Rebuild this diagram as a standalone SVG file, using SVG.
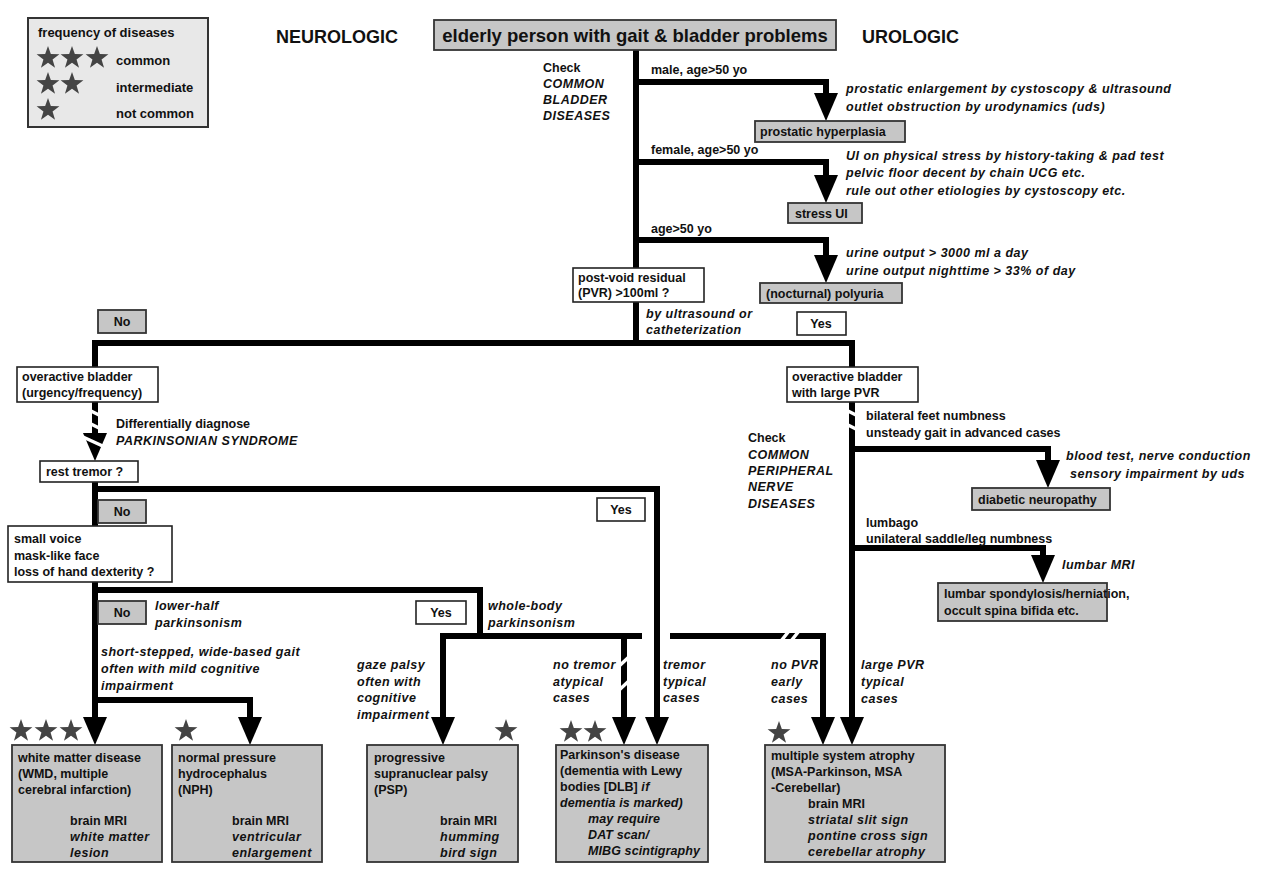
<svg xmlns="http://www.w3.org/2000/svg" xmlns:xlink="http://www.w3.org/1999/xlink" width="1272" height="878" viewBox="0 0 1272 878">
<style>
text { font-family: "Liberation Sans", Arial, sans-serif; font-size: 12.5px; font-weight: bold; fill: #111; }
.i { font-style: italic; letter-spacing: 0.5px; }
.n { letter-spacing: 0.1px; }
.h { font-size: 18px; }
.title { font-size: 18.5px; }
.lt { font-size: 13px; }
.c { text-anchor: middle; }
.ln { stroke: #000; stroke-width: 6; fill: none; }
.brk { stroke: #fff; stroke-width: 3.5; fill: none; }
.g { fill: #c6c6c6; stroke: #333; stroke-width: 1.8; }
.w { fill: #fff; stroke: #222; stroke-width: 1.6; }
.lg { fill: #e8e8e8; stroke: #333; stroke-width: 2; }
.st { fill: #444; }
.ah { fill: #000; }
</style>
<defs>
<path id="star" d="M0,-12 L2.83,-3.88 L11.41,-3.71 L4.56,1.48 L7.05,9.71 L0,4.8 L-7.05,9.71 L-4.56,1.48 L-11.41,-3.71 L-2.83,-3.88 Z"/>
<path id="ah" d="M-12,-28 L12,-28 L0,0 Z"/>
</defs>
<rect width="1272" height="878" fill="#fff"/>

<g id="legend">
<rect class="lg" x="28" y="18" width="180" height="109"/>
<text class="lt" x="38" y="37">frequency of diseases</text>
<use href="#star" class="st" x="48" y="58"/><use href="#star" class="st" x="72" y="58"/><use href="#star" class="st" x="97" y="58"/>
<text class="lt" x="116" y="65">common</text>
<use href="#star" class="st" x="48" y="84"/><use href="#star" class="st" x="72" y="84"/>
<text class="lt" x="116" y="92">intermediate</text>
<use href="#star" class="st" x="48" y="110"/>
<text class="lt" x="116" y="118">not common</text>
</g>

<text class="h" x="276" y="43">NEUROLOGIC</text>
<text class="h" x="862" y="43">UROLOGIC</text>

<g id="connectors">
<path class="ln" d="M636,50 V343"/>
<path class="ln" d="M636,82 H826 V94"/><use href="#ah" class="ah" x="826" y="121"/>
<path class="ln" d="M636,162 H826 V176"/><use href="#ah" class="ah" x="826" y="203"/>
<path class="ln" d="M636,240 H826 V256"/><use href="#ah" class="ah" x="826" y="283"/>
<path class="ln" d="M95,368 V343 H852 V368"/>
<path class="ln" d="M95,402 V436"/><use href="#ah" class="ah" x="95" y="461"/>
<path class="brk" d="M87,409 L103,417 M87,422 L103,430 M83,437 L107,448"/>
<path class="ln" d="M95,482 V526"/>
<path class="ln" d="M95,489 H657 V720"/><use href="#ah" class="ah" x="657" y="745"/>
<path class="ln" d="M95,582 V720"/><use href="#ah" class="ah" x="95" y="745"/>
<path class="ln" d="M95,700 H250 V720"/><use href="#ah" class="ah" x="250" y="745"/>
<path class="ln" d="M95,590 H480 V636"/>
<path class="ln" d="M443,720 V636 H642"/><use href="#ah" class="ah" x="443" y="745"/>
<path class="ln" d="M624,636 V720"/><use href="#ah" class="ah" x="624" y="745"/>
<path class="brk" d="M631,655 L617,668 M631,679 L617,692"/>
<path class="ln" d="M670,636 H823 V720"/><use href="#ah" class="ah" x="823" y="745"/>
<path class="brk" d="M789,631 L781,641 M799,631 L791,641"/>
<path class="ln" d="M852,402 V720"/><use href="#ah" class="ah" x="852" y="745"/>
<path class="brk" d="M844,409 L860,417 M844,423 L860,431"/>
<path class="ln" d="M852,449 H1048 V462"/><use href="#ah" class="ah" x="1048" y="488"/>
<path class="ln" d="M852,548 H1043 V558"/><use href="#ah" class="ah" x="1043" y="583"/>
</g>

<g id="n-start">
<rect class="g" x="434" y="20" width="402" height="30"/>
<text class="title c" x="635" y="42">elderly person with gait &amp; bladder problems</text>
</g>
<g id="l-check-bladder">
<text x="543" y="72">Check</text>
<text class="i" x="543" y="88">COMMON</text>
<text class="i" x="543" y="104">BLADDER</text>
<text class="i" x="543" y="120">DISEASES</text>
</g>
<g id="n-prostatic">
<text x="651" y="74">male, age&gt;50 yo</text>
<text class="i" x="846" y="93">prostatic enlargement by cystoscopy &amp; ultrasound</text>
<text class="i" x="846" y="111">outlet obstruction by urodynamics (uds)</text>
<rect class="g" x="755" y="121" width="150" height="21"/>
<text x="760" y="136">prostatic hyperplasia</text>
</g>
<g id="n-stress">
<text x="651" y="154">female, age&gt;50 yo</text>
<text class="i" x="846" y="160">UI on physical stress by history-taking &amp; pad test</text>
<text class="i" x="846" y="177">pelvic floor decent by chain UCG etc.</text>
<text class="i" x="846" y="195">rule out other etiologies by cystoscopy etc.</text>
<rect class="g" x="788" y="203" width="74" height="20"/>
<text x="795" y="218">stress UI</text>
</g>
<g id="n-polyuria">
<text x="651" y="233">age&gt;50 yo</text>
<text class="i" x="846" y="257">urine output &gt; 3000 ml a day</text>
<text class="i" x="846" y="275">urine output nighttime &gt; 33% of day</text>
<rect class="g" x="760" y="283" width="142" height="20"/>
<text x="766" y="298">(nocturnal) polyuria</text>
</g>
<g id="n-pvr">
<rect class="w" x="573" y="268" width="131" height="34"/>
<text x="578" y="282">post-void residual</text>
<text x="578" y="297">(PVR) &gt;100ml ?</text>
<text class="i" x="646" y="318">by ultrasound or</text>
<text class="i" x="646" y="334">catheterization</text>
</g>
<g id="l-no1"><rect class="g" x="98" y="310" width="48" height="23"/><text class="c" x="122" y="326">No</text></g>
<g id="l-yes1"><rect class="w" x="797" y="312" width="49" height="23"/><text class="c" x="821" y="328">Yes</text></g>

<g id="n-oab-left">
<rect class="w" x="17" y="367" width="141" height="35"/>
<text x="22" y="381">overactive bladder</text>
<text x="22" y="397">(urgency/frequency)</text>
</g>
<g id="l-diff">
<text x="116" y="428">Differentially diagnose</text>
<text class="i" x="116" y="445">PARKINSONIAN SYNDROME</text>
</g>
<g id="n-rest">
<rect class="w" x="40" y="461" width="98" height="21"/>
<text x="46" y="476">rest tremor ?</text>
</g>
<g id="l-no2"><rect class="g" x="98" y="500" width="48" height="23"/><text class="c" x="122" y="516">No</text></g>
<g id="l-yes2"><rect class="w" x="597" y="498" width="48" height="23"/><text class="c" x="621" y="514">Yes</text></g>
<g id="n-small">
<rect class="w" x="8" y="526" width="164" height="56"/>
<text x="14" y="543">small voice</text>
<text x="14" y="560">mask-like face</text>
<text x="14" y="576">loss of hand dexterity ?</text>
</g>
<g id="l-no3"><rect class="g" x="98" y="601" width="48" height="23"/><text class="c" x="122" y="617">No</text>
<text class="i" x="155" y="610">lower-half</text><text class="i" x="155" y="627">parkinsonism</text></g>
<g id="l-yes3"><rect class="w" x="416" y="601" width="50" height="23"/><text class="c" x="441" y="617">Yes</text>
<text class="i" x="488" y="610">whole-body</text><text class="i" x="488" y="627">parkinsonism</text></g>
<g id="l-gait">
<text class="i" x="101" y="656">short-stepped, wide-based gait</text>
<text class="i" x="101" y="673">often with mild cognitive</text>
<text class="i" x="101" y="690">impairment</text>
</g>
<g id="l-gaze">
<text class="i" x="357" y="669">gaze palsy</text>
<text class="i" x="357" y="686">often with</text>
<text class="i" x="357" y="702">cognitive</text>
<text class="i" x="357" y="719">impairment</text>
</g>
<g id="l-notremor">
<text class="i" x="553" y="669">no tremor</text>
<text class="i" x="553" y="686">atypical</text>
<text class="i" x="553" y="702">cases</text>
</g>
<g id="l-tremor">
<text class="i" x="663" y="669">tremor</text>
<text class="i" x="663" y="686">typical</text>
<text class="i" x="663" y="702">cases</text>
</g>
<g id="l-nopvr">
<text class="i" x="771" y="669">no PVR</text>
<text class="i" x="771" y="686">early</text>
<text class="i" x="771" y="703">cases</text>
</g>
<g id="l-largepvr">
<text class="i" x="861" y="669">large PVR</text>
<text class="i" x="861" y="686">typical</text>
<text class="i" x="861" y="703">cases</text>
</g>

<g id="n-oab-right">
<rect class="w" x="787" y="367" width="131" height="35"/>
<text x="792" y="381">overactive bladder</text>
<text x="792" y="397">with large PVR</text>
</g>
<g id="l-check-nerve">
<text x="748" y="442">Check</text>
<text class="i" x="748" y="459">COMMON</text>
<text class="i" x="748" y="475">PERIPHERAL</text>
<text class="i" x="748" y="491">NERVE</text>
<text class="i" x="748" y="508">DISEASES</text>
</g>
<g id="n-diabetic">
<text x="866" y="420">bilateral feet numbness</text>
<text x="866" y="437">unsteady gait in advanced cases</text>
<text class="i" x="1066" y="460">blood test, nerve conduction</text>
<text class="i" x="1070" y="478">sensory impairment by uds</text>
<rect class="g" x="972" y="488" width="138" height="22"/>
<text x="978" y="504">diabetic neuropathy</text>
</g>
<g id="n-lumbar">
<text x="866" y="527">lumbago</text>
<text x="866" y="543">unilateral saddle/leg numbness</text>
<text class="i" x="1062" y="569">lumbar MRI</text>
<rect class="g" x="938" y="583" width="169" height="38"/>
<text x="944" y="598">lumbar spondylosis/herniation,</text>
<text x="944" y="615">occult spina bifida etc.</text>
</g>

<g id="n-wmd">
<use href="#star" class="st" x="21" y="731"/><use href="#star" class="st" x="46" y="731"/><use href="#star" class="st" x="71" y="731"/>
<rect class="g" x="12" y="745" width="150" height="117"/>
<text x="18" y="762">white matter disease</text>
<text x="18" y="778">(WMD, multiple</text>
<text x="18" y="794">cerebral infarction)</text>
<text x="70" y="825">brain MRI</text>
<text class="i" x="70" y="841">white matter</text>
<text class="i" x="70" y="857">lesion</text>
</g>
<g id="n-nph">
<use href="#star" class="st" x="186" y="731"/>
<rect class="g" x="172" y="745" width="150" height="117"/>
<text x="178" y="762">normal pressure</text>
<text x="178" y="778">hydrocephalus</text>
<text x="178" y="794">(NPH)</text>
<text x="232" y="825">brain MRI</text>
<text class="i" x="232" y="841">ventricular</text>
<text class="i" x="232" y="857">enlargement</text>
</g>
<g id="n-psp">
<use href="#star" class="st" x="506" y="731"/>
<rect class="g" x="367" y="745" width="151" height="117"/>
<text x="374" y="762">progressive</text>
<text x="374" y="778">supranuclear palsy</text>
<text x="374" y="794">(PSP)</text>
<text x="440" y="825">brain MRI</text>
<text class="i" x="440" y="841">humming</text>
<text class="i" x="440" y="857">bird sign</text>
</g>
<g id="n-pd">
<use href="#star" class="st" x="571" y="732"/><use href="#star" class="st" x="595" y="732"/>
<rect class="g" x="556" y="745" width="152" height="117"/>
<text x="560" y="759">Parkinson's disease</text>
<text x="560" y="775">(dementia with Lewy</text>
<text x="560" y="791">bodies [DLB] <tspan class="i">if</tspan></text>
<text class="i n" x="560" y="807">dementia is marked)</text>
<text class="i n" x="588" y="823">may require</text>
<text class="i n" x="588" y="839">DAT scan/</text>
<text class="i n" x="588" y="855">MIBG scintigraphy</text>
</g>
<g id="n-msa">
<use href="#star" class="st" x="779" y="733"/>
<rect class="g" x="765" y="745" width="180" height="117"/>
<text x="771" y="760">multiple system atrophy</text>
<text x="771" y="776">(MSA-Parkinson, MSA</text>
<text x="771" y="792">-Cerebellar)</text>
<text x="808" y="808">brain MRI</text>
<text class="i" x="808" y="824">striatal slit sign</text>
<text class="i" x="808" y="840">pontine cross sign</text>
<text class="i" x="808" y="856">cerebellar atrophy</text>
</g>
</svg>
